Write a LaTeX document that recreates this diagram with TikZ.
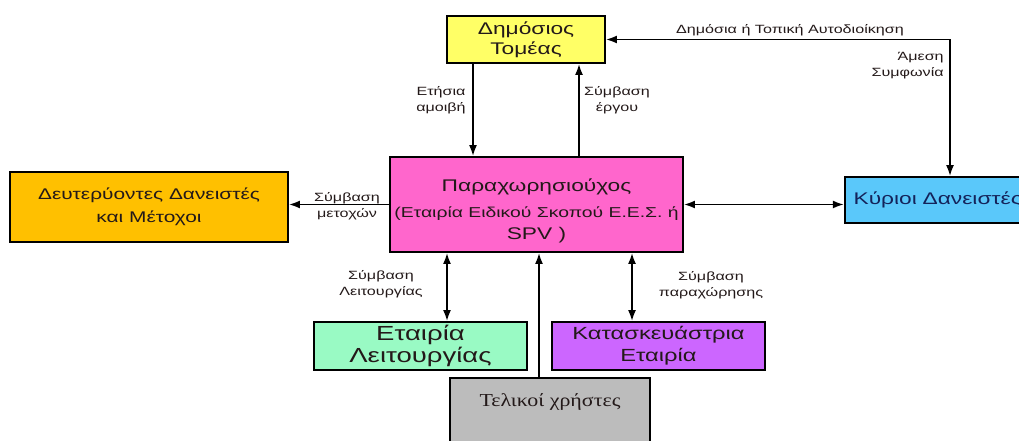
\documentclass[tikz,border=0pt]{standalone}
\usepackage{fontspec}
\usepackage{tikz}
\usetikzlibrary{arrows.meta}
\setmainfont{Liberation Sans}[FakeStretch=1.35]
\newfontfamily\grserif{Liberation Serif}[FakeStretch=1.2]
\definecolor{cYellow}{RGB}{255,255,102}
\definecolor{cOrange}{RGB}{255,192,0}
\definecolor{cPink}{RGB}{255,102,204}
\definecolor{cBlue}{RGB}{90,200,250}
\definecolor{cGreen}{RGB}{153,250,196}
\definecolor{cPurple}{RGB}{204,102,255}
\definecolor{cGray}{RGB}{188,188,188}
\definecolor{cText}{RGB}{35,25,25}
\definecolor{cNavy}{RGB}{20,35,90}
\newcommand{\boxfont}{\fontsize{12}{14}\selectfont}
\newcommand{\subfont}{\fontsize{10.2}{14}\selectfont}
\newcommand{\lblfont}{\fontsize{8.5}{11.5}\selectfont}
\tikzset{
  entity/.style={draw=black, line width=1.1pt, align=center, inner sep=0pt, text=cText, font=\boxfont},
  lbl/.style={align=center, inner sep=0pt, text=cText, font=\lblfont},
  conn/.style={line width=1.3pt, -{Latex[length=2.8mm,width=2mm]}},
  bothconn/.style={line width=1.3pt, {Latex[length=2.8mm,width=2mm]}-{Latex[length=2.8mm,width=2mm]}}
}

\begin{document}
\begin{tikzpicture}[x=0.25mm,y=-0.25mm]
    \useasboundingbox (0,0) rectangle (1019,441);
    \clip (0,0) rectangle (1019,441);

    \node[entity, fill=cYellow, minimum width=39.5mm, minimum height=11.75mm] (pub) at (526,39.5) {Δημόσιος\\Τομέας};
    \node[entity, fill=cPink, minimum width=73.25mm, minimum height=23.75mm] (spv) at (536.5,204.5) {\rule{0pt}{18pt}Παραχωρησιούχος\\[4.5pt]\subfont (Εταιρία Ειδικού Σκοπού Ε.Ε.Σ. ή\\[2pt]SPV )};
    \node[entity, fill=cOrange, minimum width=69.5mm, minimum height=17.5mm, font=\fontsize{11}{16}\selectfont] (sec) at (149,207) {Δευτερύοντες Δανειστές\\και Μέτοχοι};
    \node[entity, fill=cBlue, text=cNavy, anchor=west, align=left, text width=55mm, inner xsep=2.2mm, minimum height=11.5mm, font=\fontsize{12}{14}\selectfont] (lend) at (844,200) {Κύριοι Δανειστές};
    \node[entity, fill=cGreen, minimum width=53.25mm, minimum height=12mm, font=\fontsize{14.5}{15.6}\selectfont] (ops) at (420.5,346) {Εταιρία\\Λειτουργίας};
    \node[entity, fill=cPurple, minimum width=53.25mm, minimum height=12mm, font=\fontsize{12.5}{15.6}\selectfont] (cons) at (658.5,346) {Κατασκευάστρια\\Εταιρία};
    \node[entity, fill=cGray, anchor=north, minimum width=50mm, text height=7.2mm, text depth=15mm, font=\grserif\fontsize{13}{14}\selectfont] (users) at (550,377) {Τελικοί χρήστες};

    \coordinate (xa) at (473,0);
    \coordinate (xb) at (579,0);
    \coordinate (xc) at (950,0);
    \coordinate (xd) at (447,0);
    \coordinate (xe) at (539,0);
    \coordinate (xf) at (632,0);

    \draw[conn] (pub.south -| xa) -- (spv.north -| xa);
    \draw[conn] (spv.north -| xb) -- (pub.south -| xb);
    \draw[bothconn] (pub.east) -| (lend.north -| xc);
    \draw[conn] (spv.west) -- (spv.west -| sec.east);
    \draw[bothconn] (spv.east) -- (spv.east -| lend.west);
    \draw[bothconn] (spv.south -| xd) -- (ops.north -| xd);
    \draw[conn] (users.north -| xe) -- (spv.south -| xe);
    \draw[bothconn] (spv.south -| xf) -- (cons.north -| xf);

    \node[lbl] (lfee) at (441,100) {Ετήσια\\αμοιβή};
    \node[lbl] (lwork) at (617,100) {Σύμβαση\\έργου};
    \node[lbl] (llocal) at (790,30) {Δημόσια ή Τοπική Αυτοδιοίκηση};
    \node[lbl, align=right, anchor=east] (ldirect) at (944,66) {Άμεση\\Συμφωνία};
    \node[lbl] (lshare) at (347,206) {Σύμβαση\\μετοχών};
    \node[lbl] (lop) at (381,284) {Σύμβαση\\Λειτουργίας};
    \node[lbl] (lconc) at (711,285) {Σύμβαση\\παραχώρησης};
\end{tikzpicture}
\end{document}
